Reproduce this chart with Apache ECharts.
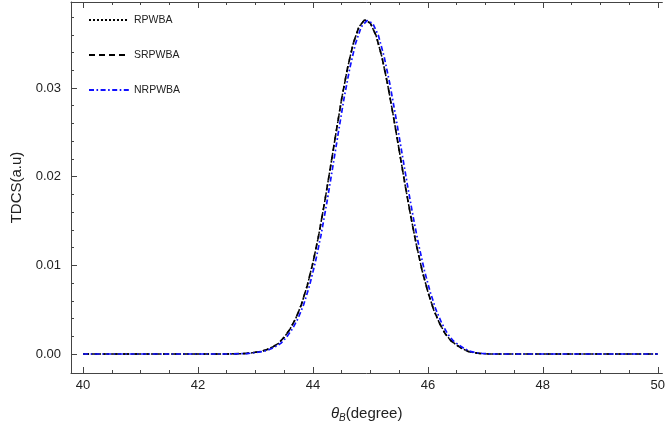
<!DOCTYPE html>
<html>
<head>
<meta charset="utf-8">
<script src="https://cdn.jsdelivr.net/npm/echarts@6/dist/echarts.min.js"></script>
<style>html,body{margin:0;padding:0;background:#fff}#c{width:668px;height:433px}</style>
</head>
<body>
<div id="c"></div>
<script>
// ---- data ----
const thetaBlack = [40.0, 41.0, 42.0, 42.5, 42.8, 42.9, 43.0, 43.1, 43.2, 43.3, 43.4, 43.5, 43.6, 43.7, 43.8, 43.9, 44.0, 44.1, 44.2, 44.3, 44.4, 44.5, 44.6, 44.7, 44.8, 44.9, 45.0, 45.1, 45.2, 45.3, 45.4, 45.5, 45.6, 45.7, 45.8, 45.9, 46.0, 46.1, 46.2, 46.3, 46.4, 46.5, 46.6, 46.7, 46.8, 46.9, 47.0, 47.1, 47.5, 48.0, 49.0, 50.0];
const rpwba = [0, 0, 0, 0, 0.00005, 0.0001, 0.0002, 0.0003, 0.0005, 0.0008, 0.0012, 0.0019, 0.0028, 0.0040, 0.0056, 0.0077, 0.0103, 0.0134, 0.0170, 0.0209, 0.0249, 0.0288, 0.0322, 0.0350, 0.0369, 0.0377, 0.0373, 0.0359, 0.0335, 0.0304, 0.0268, 0.0230, 0.0192, 0.0156, 0.0123, 0.0094, 0.0070, 0.0050, 0.0035, 0.0023, 0.0015, 0.0010, 0.0006, 0.0003, 0.00015, 0.00007, 0.00003, 0, 0, 0, 0, 0];
const srpwba = [0, 0, 0, 0, 0.00005, 0.0001, 0.0002, 0.0003, 0.0005, 0.0008, 0.0012, 0.0019, 0.0028, 0.0040, 0.0056, 0.0077, 0.0103, 0.0134, 0.0170, 0.0209, 0.0249, 0.0288, 0.0322, 0.0350, 0.0369, 0.0377, 0.0373, 0.0359, 0.0335, 0.0304, 0.0268, 0.0230, 0.0192, 0.0156, 0.0123, 0.0094, 0.0070, 0.0050, 0.0035, 0.0023, 0.0015, 0.0010, 0.0006, 0.0003, 0.00015, 0.00007, 0.00003, 0, 0, 0, 0, 0];
const thetaBlue = [40.0, 41.0, 42.0, 42.5, 42.84, 42.94, 43.04, 43.14, 43.24, 43.34, 43.44, 43.54, 43.64, 43.74, 43.84, 43.94, 44.04, 44.14, 44.24, 44.34, 44.44, 44.54, 44.64, 44.74, 44.84, 44.94, 45.04, 45.14, 45.24, 45.34, 45.44, 45.54, 45.64, 45.74, 45.84, 45.94, 46.04, 46.14, 46.24, 46.34, 46.44, 46.54, 46.64, 46.74, 46.84, 46.94, 47.04, 47.14, 47.5, 48.0, 49.0, 50.0];
const nrpwba = [0, 0, 0, 0, 0.00005, 0.0001, 0.0002, 0.0003, 0.0005, 0.0008, 0.0012, 0.0019, 0.0028, 0.0040, 0.0056, 0.0077, 0.0103, 0.0134, 0.0170, 0.0209, 0.0249, 0.0288, 0.0322, 0.0350, 0.0369, 0.0376, 0.0373, 0.0359, 0.0335, 0.0304, 0.0268, 0.0230, 0.0192, 0.0156, 0.0123, 0.0094, 0.0070, 0.0050, 0.0035, 0.0023, 0.0015, 0.0010, 0.0006, 0.0003, 0.00015, 0.00007, 0.00003, 0, 0, 0, 0, 0];
const xLabels = [40, 42, 44, 46, 48, 50];
const xMinor = [40.5, 41, 41.5, 42.5, 43, 43.5, 44.5, 45, 45.5, 46.5, 47, 47.5, 48.5, 49, 49.5];
const yLabels = [0, 0.01, 0.02, 0.03];
const yMinor = [0.002, 0.004, 0.006, 0.008, 0.012, 0.014, 0.016, 0.018, 0.022, 0.024, 0.026, 0.028, 0.032, 0.034, 0.036, 0.038];
const seriesNames = ['RPWBA', 'SRPWBA', 'NRPWBA'];

const pairs = (xs, ys) => xs.map((x, i) => [x, ys[i]]);
const FONT = '"Liberation Sans", Arial, sans-serif';
const AX = '#444';
const X_MIN = 39.79, X_MAX = 50.08, Y_MIN = -0.00214, Y_MAX = 0.0397;

function xAx(pos, labels, ticks, len, showLabel, showLine) {
  return {
    type: 'value', position: pos, min: X_MIN, max: X_MAX,
    axisLine: { show: showLine, onZero: false, lineStyle: { color: AX, width: 1 } },
    axisTick: { show: true, inside: true, length: len, customValues: ticks, lineStyle: { color: AX } },
    axisLabel: { show: showLabel, customValues: labels, color: '#222', fontFamily: FONT, fontSize: 13, margin: 6, formatter: v => String(Math.round(v)) },
    splitLine: { show: false }
  };
}
function yAx(labels, ticks, len, showLabel, showLine) {
  return {
    type: 'value', position: 'left', min: Y_MIN, max: Y_MAX,
    axisLine: { show: showLine, onZero: false, lineStyle: { color: AX, width: 1 } },
    axisTick: { show: true, inside: true, length: len, customValues: ticks, lineStyle: { color: AX } },
    axisLabel: { show: showLabel, customValues: labels, color: '#222', fontFamily: FONT, fontSize: 13, margin: 10, formatter: v => v.toFixed(2) },
    splitLine: { show: false }
  };
}

const xb = xAx('bottom', xLabels, xLabels, 6, true, true);
xb.name = '{t|θ}{s|B}{n|(degree)}';
xb.nameLocation = 'middle';
xb.nameGap = 32;
xb.nameTextStyle = { rich: {
  t: { fontFamily: FONT, fontSize: 15, fontStyle: 'italic', color: '#222' },
  s: { fontFamily: FONT, fontSize: 10, fontStyle: 'italic', color: '#222', verticalAlign: 'bottom', padding: [8, 0, 0, 0] },
  n: { fontFamily: FONT, fontSize: 15, color: '#222' }
}};
const yl = yAx(yLabels, yLabels, 6, true, true);
yl.name = 'TDCS(a.u)';
yl.nameLocation = 'middle';
yl.nameGap = 41;
yl.nameTextStyle = { fontFamily: FONT, fontSize: 15, color: '#222' };

const option = {
  backgroundColor: '#fff',
  animation: false,
  grid: { left: 71, right: 0, top: 2, bottom: 60, containLabel: false },
  xAxis: [
    xb,
    xAx('bottom', [], xMinor, 3, false, false),
    xAx('top', [], xLabels, 6, false, true),
    xAx('top', [], xMinor, 3, false, false)
  ],
  yAxis: [
    yl,
    yAx([], yMinor, 3, false, false)
  ],
  legend: {
    orient: 'vertical', left: 83, top: 7, itemWidth: 40, itemHeight: 14, itemGap: 19,
    itemStyle: { opacity: 0 },
    textStyle: { fontFamily: FONT, fontSize: 10.5, color: '#222', lineHeight: 16 },
    data: seriesNames
  },
  series: [
    { name: seriesNames[0], type: 'line', showSymbol: false, symbol: 'none', data: pairs(thetaBlack, rpwba),
      lineStyle: { color: '#000', width: 1.5, type: [2, 2] }, itemStyle: { color: '#000' } },
    { name: seriesNames[1], type: 'line', showSymbol: false, symbol: 'none', data: pairs(thetaBlack, srpwba),
      lineStyle: { color: '#000', width: 1.7, type: [6, 4] }, itemStyle: { color: '#000' } },
    { name: seriesNames[2], type: 'line', showSymbol: false, symbol: 'none', data: pairs(thetaBlue, nrpwba),
      lineStyle: { color: '#1010ff', width: 1.7, type: [5, 2.5, 1.6, 2.5] }, itemStyle: { color: '#1010ff' } }
  ]
};
echarts.init(document.getElementById('c'), null, { renderer: 'canvas' }).setOption(option);
</script>
</body>
</html>
